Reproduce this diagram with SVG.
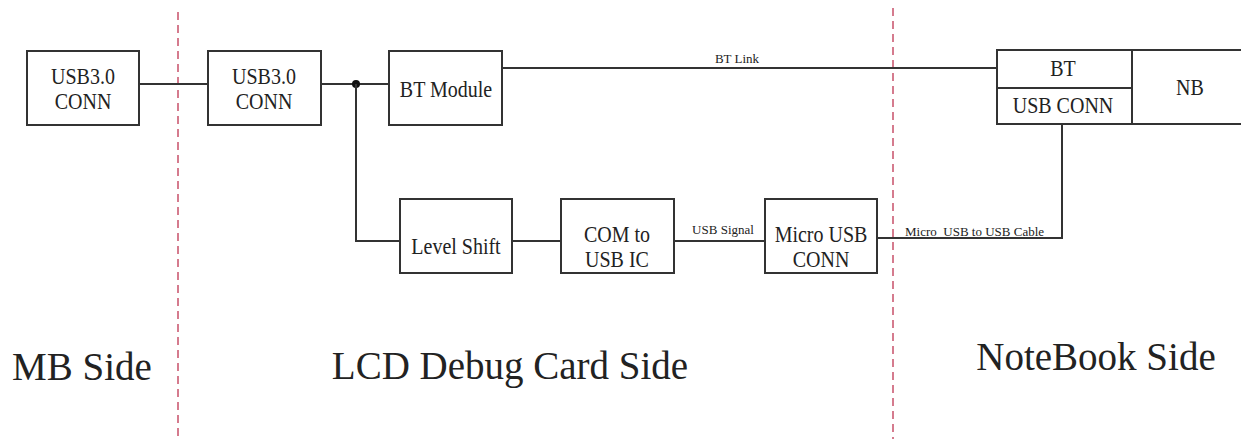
<svg xmlns="http://www.w3.org/2000/svg" width="1241" height="439" viewBox="0 0 1241 439">
<style>
.box{fill:#fff;stroke:#333;stroke-width:2}
.ln{fill:none;stroke:#333;stroke-width:2}
.div{stroke:#c8506a;stroke-width:1.5;stroke-dasharray:8 5}
text{font-family:"Liberation Serif","Times New Roman",serif;fill:#222;text-anchor:middle}
.n{font-size:20px}
.s{font-size:13px}
.big{font-size:39px}
</style>
<rect width="1241" height="439" fill="#fff"/>
<g id="dividers">
<line class="div" x1="178" y1="12" x2="178" y2="439"/>
<line class="div" x1="893" y1="8" x2="893" y2="439"/>
</g>
<g id="connectors">
<line class="ln" x1="139" y1="84" x2="208" y2="84"/>
<line class="ln" x1="321" y1="84" x2="389" y2="84"/>
<circle cx="356" cy="84" r="4" fill="#111"/>
<polyline class="ln" points="356,84 356,241 400,241"/>
<line class="ln" x1="512" y1="241" x2="561" y2="241"/>
<line class="ln" x1="674" y1="241" x2="765" y2="241"/>
<text class="s" x="723" y="234">USB Signal</text>
<polyline class="ln" points="877,238 1062,238 1062,124"/>
<text class="s" x="905" y="236" style="text-anchor:start;white-space:pre">Micro  USB to USB Cable</text>
<line class="ln" x1="502" y1="68" x2="997" y2="68"/>
<text class="s" x="737" y="63">BT Link</text>
</g>
<g id="mb-usb">
<rect class="box" x="27" y="51" width="112" height="74"/>
<text class="n" transform="translate(83,84) scale(1,1.18)">USB3.0</text>
<text class="n" transform="translate(83,109) scale(1,1.18)">CONN</text>
</g>
<g id="lcd-usb">
<rect class="box" x="208" y="51" width="113" height="74"/>
<text class="n" transform="translate(264,84) scale(1,1.18)">USB3.0</text>
<text class="n" transform="translate(264,109) scale(1,1.18)">CONN</text>
</g>
<g id="bt-module">
<rect class="box" x="389" y="51" width="113" height="74"/>
<text class="n" transform="translate(446,97) scale(1,1.18)">BT Module</text>
</g>
<g id="level-shift">
<rect class="box" x="400" y="199" width="112" height="74"/>
<text class="n" transform="translate(456,254) scale(1,1.18)">Level Shift</text>
</g>
<g id="com-usb">
<rect class="box" x="561" y="199" width="113" height="74"/>
<text class="n" transform="translate(617,242) scale(1,1.18)">COM to</text>
<text class="n" transform="translate(617,267) scale(1,1.18)">USB IC</text>
</g>
<g id="micro-usb">
<rect class="box" x="765" y="199" width="112" height="74"/>
<text class="n" transform="translate(821,242) scale(1,1.18)">Micro USB</text>
<text class="n" transform="translate(821,267) scale(1,1.18)">CONN</text>
</g>
<g id="nb">
<rect class="box" x="997" y="50" width="250" height="74"/>
<line class="ln" x1="997" y1="88" x2="1132" y2="88"/>
<line class="ln" x1="1132" y1="50" x2="1132" y2="124"/>
<text class="n" transform="translate(1063,76) scale(1,1.18)">BT</text>
<text class="n" transform="translate(1063,113) scale(1,1.18)">USB CONN</text>
<text class="n" transform="translate(1190,95) scale(1,1.18)">NB</text>
</g>
<g id="labels">
<text class="big" x="82" y="380">MB Side</text>
<text class="big" x="510" y="379">LCD Debug Card Side</text>
<text class="big" x="1096" y="370">NoteBook Side</text>
</g>
</svg>
